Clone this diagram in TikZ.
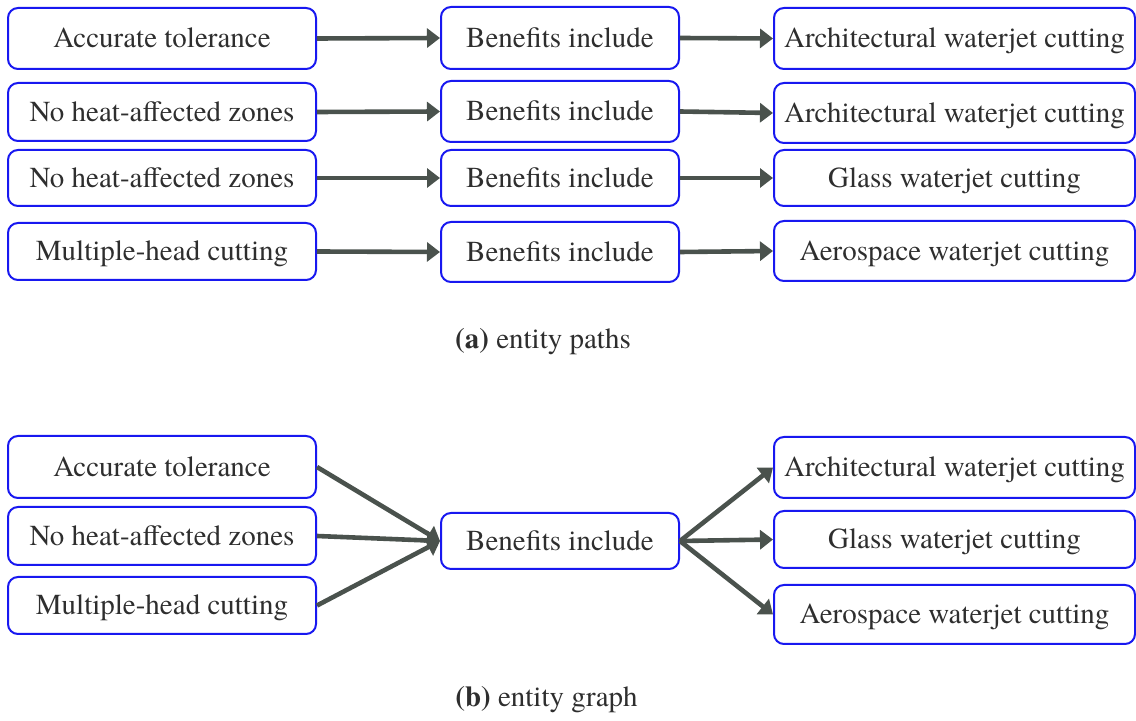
\documentclass[tikz,border=0pt]{standalone}
\usepackage{fontspec}
\newfontfamily\entityface{TeX Gyre Termes}
\usetikzlibrary{arrows.meta}
\definecolor{boxblue}{HTML}{1818F0}
\definecolor{txtgray}{HTML}{2E2E2E}
\definecolor{arrowgray}{HTML}{4A524D}
\tikzset{
  entity/.style={draw=boxblue, line width=1pt, rounded corners=5pt, text=txtgray,
    font=\entityface\fontsize{14.5}{17}\selectfont, inner sep=0pt, align=center,
    text height=11.5pt, text depth=2pt},
  leftbox/.style={entity, minimum width=154pt},
  midbox/.style={entity, minimum width=119pt},
  rightbox/.style={entity, minimum width=180.5pt},
  link/.style={draw=arrowgray, line width=2.3pt, -{Triangle[length=6.5pt,width=9.5pt]}},
  caption/.style={text=txtgray, font=\entityface\fontsize{14.5}{17}\selectfont, inner sep=0pt, anchor=base}
}
\begin{document}
\begin{tikzpicture}[x=0.5pt,y=-0.5pt]
\useasboundingbox (0,0) rectangle (1136,721);

% (a) entity paths
\node[leftbox, minimum height=30.5pt] (a1l) at (162,38.5) {Accurate tolerance};
\node[midbox, minimum height=31pt] (a1m) at (560,38) {Benefits include};
\node[rightbox, minimum height=30.5pt] (a1r) at (954.5,38.5) {Architectural waterjet cutting};

\node[leftbox, minimum height=29pt] (a2l) at (162,112) {No heat-affected zones};
\node[midbox, minimum height=30.5pt] (a2m) at (560,111.5) {Benefits include};
\node[rightbox, minimum height=30pt] (a2r) at (954.5,113) {Architectural waterjet cutting};

\node[leftbox, minimum height=28pt] (a3l) at (162,178) {No heat-affected zones};
\node[midbox, minimum height=28pt] (a3m) at (560,178) {Benefits include};
\node[rightbox, minimum height=28pt] (a3r) at (954.5,178) {Glass waterjet cutting};

\node[leftbox, minimum height=28.5pt] (a4l) at (162,251.5) {Multiple-head cutting};
\node[midbox, minimum height=30pt] (a4m) at (560,252) {Benefits include};
\node[rightbox, minimum height=30pt] (a4r) at (954.5,251) {Aerospace waterjet cutting};

\foreach \r in {1,2,3,4}{
  \draw[link] (a\r l.east) -- (a\r m.west);
  \draw[link] (a\r m.east) -- (a\r r.west);
}

\node[caption] (capa) at (543,348.5) {\textbf{(a)} entity paths};

% (b) entity graph
\node[leftbox, minimum height=31pt] (b1l) at (162,467) {Accurate tolerance};
\node[leftbox, minimum height=29pt] (b2l) at (162,536) {No heat-affected zones};
\node[leftbox, minimum height=28.5pt] (b3l) at (162,605.5) {Multiple-head cutting};

\node[midbox, minimum height=28pt] (bm) at (560,541) {Benefits include};

\node[rightbox, minimum height=30.5pt] (b1r) at (954.5,467.5) {Architectural waterjet cutting};
\node[rightbox, minimum height=28.5pt] (b2r) at (954.5,539.5) {Glass waterjet cutting};
\node[rightbox, minimum height=29.5pt] (b3r) at (954.5,614.5) {Aerospace waterjet cutting};

\foreach \r in {1,2,3}{
  \draw[link] (b\r l.east) -- (bm.west);
  \draw[link] (bm.east) -- (b\r r.west);
}

\node[caption] (capb) at (546.5,706) {\textbf{(b)} entity graph};
\end{tikzpicture}
\end{document}
